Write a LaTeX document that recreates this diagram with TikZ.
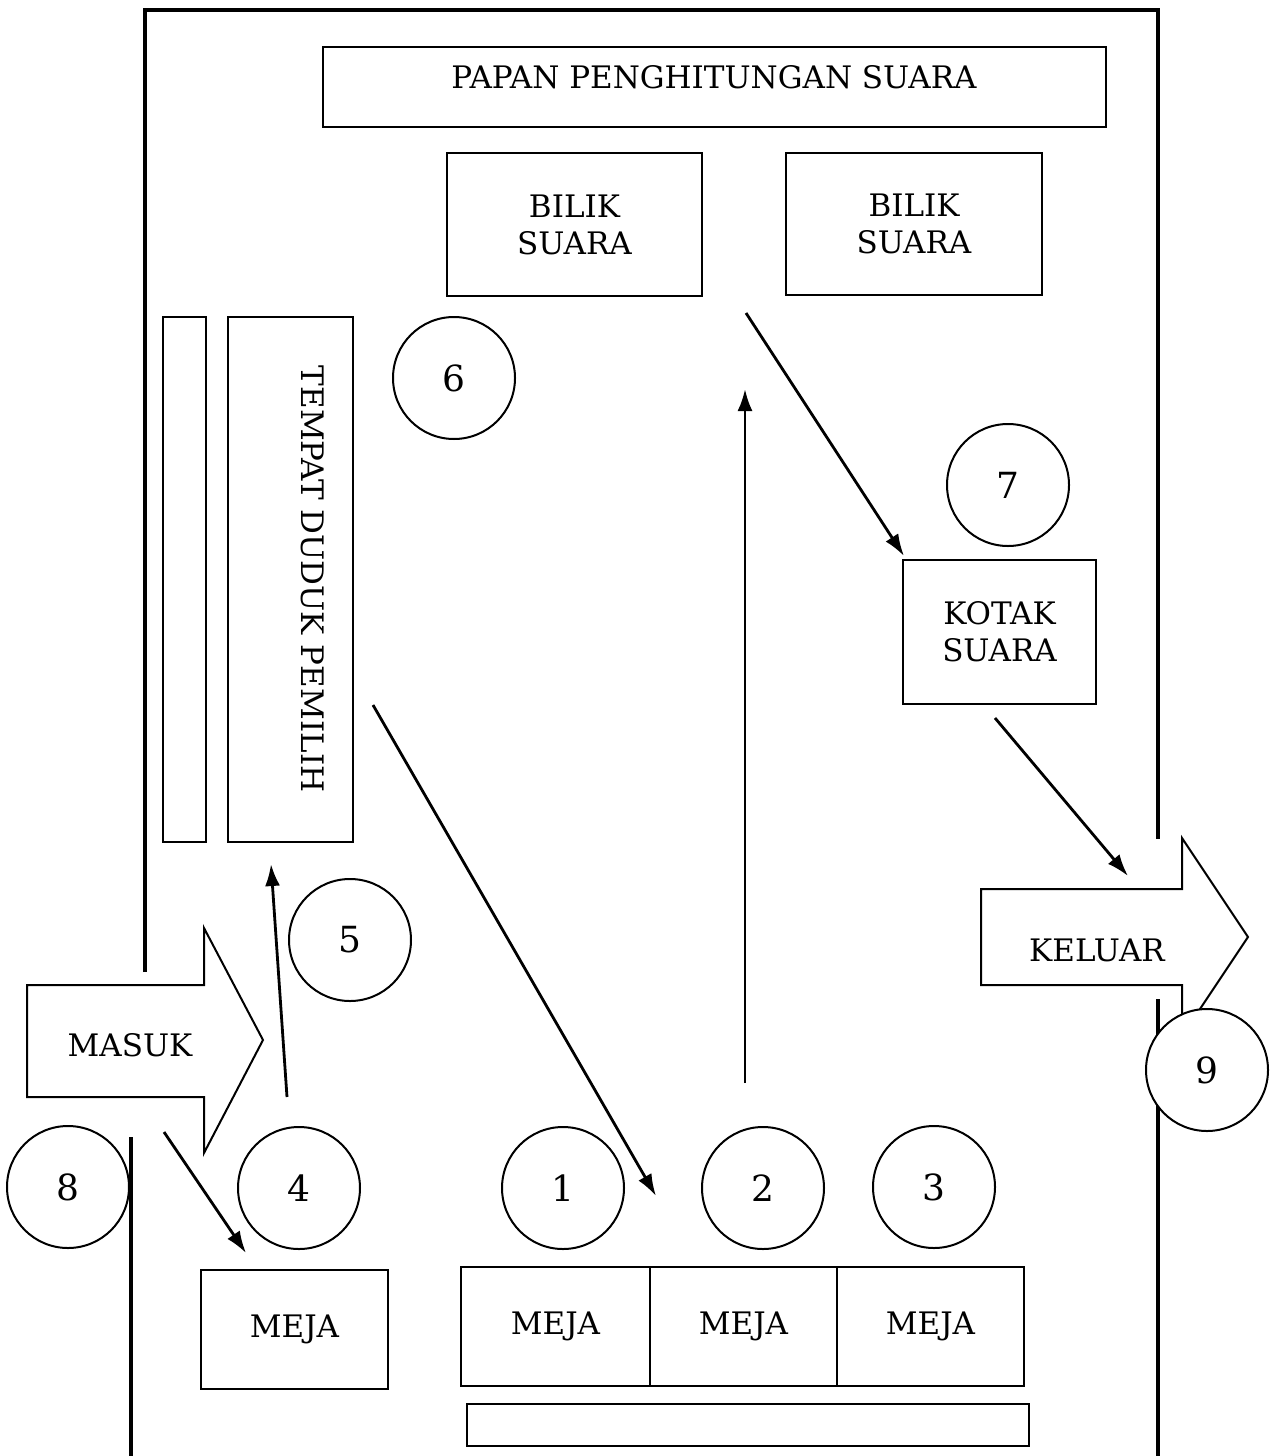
\documentclass[tikz,border=0pt]{standalone}
\usepackage{fontspec}
\setmainfont{DejaVu Serif}
\usetikzlibrary{arrows.meta}
\begin{document}
\begin{tikzpicture}[x=1pt,y=-1pt,
  box/.style={draw,line width=2pt,inner sep=0pt,font=\fontsize{31}{37}\selectfont,align=center},
  lbl/.style={inner sep=0pt,font=\fontsize{31}{37}\selectfont,align=center},
  num/.style={draw,circle,line width=2pt,minimum size=122pt,inner sep=0pt,fill=white,font=\fontsize{36}{40}\selectfont},
  wall/.style={line width=4pt,line join=miter},
  flow/.style={line width=2.8pt,-{Latex[length=22pt,width=15pt]}},
  bigarrow/.style={draw,line width=2pt,fill=white,line join=miter}
]
\useasboundingbox (0,0) rectangle (1270,1456);
% walls
\draw[wall] (145,972) -- (145,10) -- (1158,10) -- (1158,839);
\draw[wall] (1158,999) -- (1158,1456);
\draw[wall] (131,1137) -- (131,1456);
% boxes
\node[box,minimum width=783pt,minimum height=80pt] (papan) at (714.5,87) {};
\node[lbl] (papant) at (714,77) {PAPAN PENGHITUNGAN SUARA};
\node[box,minimum width=255pt,minimum height=143pt] (bilik1) at (574.5,224.5) {BILIK\\SUARA};
\node[box,minimum width=256pt,minimum height=142pt] (bilik2) at (914,224) {BILIK\\SUARA};
\node[box,minimum width=43pt,minimum height=525pt] (bar) at (184.5,579.5) {};
\node[box,minimum width=125pt,minimum height=525pt] (tempat) at (290.5,579.5) {};
\node[lbl,rotate=-90] (tempatt) at (313,579) {TEMPAT DUDUK PEMILIH};
\node[box,minimum width=193pt,minimum height=144pt] (kotak) at (999.5,632) {KOTAK\\SUARA};
\node[box,minimum width=187pt,minimum height=119pt] (meja0) at (294.5,1329.5) {MEJA};
\node[box,minimum width=189pt,minimum height=119pt] (meja1) at (555.5,1326.5) {MEJA};
\node[box,minimum width=187pt,minimum height=119pt] (meja2) at (743.5,1326.5) {MEJA};
\node[box,minimum width=187pt,minimum height=119pt] (meja3) at (930.5,1326.5) {MEJA};
\node[box,minimum width=562pt,minimum height=42pt] (bench) at (748,1425) {};
% big arrows
\draw[bigarrow] (27,985) -- (204,985) -- (204,928) -- (263,1040) -- (204,1153) -- (204,1097) -- (27,1097) -- cycle;
\node[lbl] (masuk) at (130,1045) {MASUK};
\draw[bigarrow] (981,889) -- (1182,889) -- (1182,838) -- (1248,937) -- (1182,1036) -- (1182,985) -- (981,985) -- cycle;
\node[lbl] (keluar) at (1097,950) {KELUAR};
% numbered circles
\node[num] (c1) at (563,1188) {1};
\node[num] (c2) at (763,1188) {2};
\node[num] (c3) at (934,1187) {3};
\node[num] (c4) at (299,1188) {4};
\node[num] (c5) at (350,940) {5};
\node[num] (c6) at (454,378) {6};
\node[num] (c7) at (1008,485) {7};
\node[num] (c8) at (68,1187) {8};
\node[num] (c9) at (1207,1070) {9};
% flow arrows
\coordinate (f1s) at (164,1132); \coordinate (f1e) at (246,1253);
\coordinate (f2s) at (287,1097); \coordinate (f2e) at (271,864);
\coordinate (f3s) at (373,705);  \coordinate (f3e) at (656,1196);
\coordinate (f4s) at (745,1083); \coordinate (f4e) at (745,389);
\coordinate (f5s) at (746,313);  \coordinate (f5e) at (904,556);
\coordinate (f6s) at (995,718);  \coordinate (f6e) at (1128,876);
\draw[flow] (f1s) -- (f1e);
\draw[flow] (f2s) -- (f2e);
\draw[flow] (f3s) -- (f3e);
\draw[flow] (f4s) -- (f4e);
\draw[flow] (f5s) -- (f5e);
\draw[flow] (f6s) -- (f6e);
\end{tikzpicture}
\end{document}
